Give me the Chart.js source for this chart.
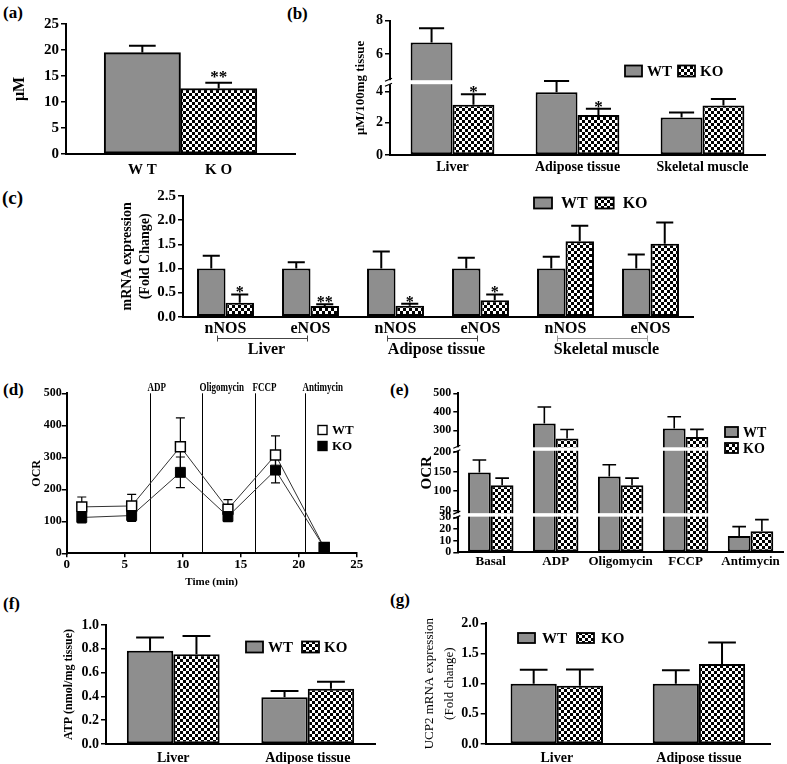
<!DOCTYPE html>
<html lang="en">
<head>
<meta charset="UTF-8">
<title>NO / OCR / ATP panels</title>
<script src="https://cdn.jsdelivr.net/npm/chart.js@4.4.1/dist/chart.umd.min.js"></script>
<style>
    html, body {
        margin: 0;
        padding: 0;
        background: #fff;
    }
    body {
        position: relative;
        width: 787px;
        height: 764px;
        overflow: hidden;
        font-family: 'Liberation Serif', 'Times New Roman', serif;
    }
    canvas { position: absolute; }
    .tag {
        position: absolute;
        font-weight: bold;
        font-size: 17px;
        line-height: 1;
    }
</style>
</head>
<body>
<div class="tag" style="left:3px;top:4px">(a)</div>
<div class="tag" style="left:287px;top:5px">(b)</div>
<div class="tag" style="left:2px;top:188px;font-size:19px">(c)</div>
<div class="tag" style="left:3px;top:381px">(d)</div>
<div class="tag" style="left:390px;top:381px">(e)</div>
<div class="tag" style="left:3px;top:595px">(f)</div>
<div class="tag" style="left:390px;top:591px">(g)</div>

<script>
    // ---------- data ----------
    // (a) serum NO
    const catsA = ['WT', 'KO'];
    const valsA = [19.5, 12.6];
    const errA = [1.3, 1.1];
    const starsA = ['', '**'];

    // (b) tissue NO
    const catsB = ['Liver', 'Adipose tissue', 'Skeletal muscle'];
    const wtB = [6.7, 3.97, 2.32];
    const wtErrB = [0.85, 0.5, 0.32];
    const koB = [3.15, 2.47, 3.1];
    const koErrB = [0.69, 0.42, 0.42];
    const koStarsB = ['*', '*', ''];

    // (c) NOS mRNA
    const catsC = ['nNOS', 'eNOS', 'nNOS', 'eNOS', 'nNOS', 'eNOS'];
    const groupsC = ['Liver', 'Adipose tissue', 'Skeletal muscle'];
    const wtC = [1, 1, 1, 1, 1, 1];
    const wtErrC = [0.26, 0.13, 0.35, 0.22, 0.24, 0.29];
    const koC = [0.29, 0.22, 0.225, 0.34, 1.565, 1.51];
    const koErrC = [0.17, 0.04, 0.045, 0.12, 0.32, 0.44];
    const koStarsC = ['*', '**', '*', '*', '', ''];

    // (d) OCR time course
    const timeD = [1.3, 5.6, 9.8, 13.9, 18.0, 22.2];
    const wtD = [145, 148, 333, 138, 307, 18];
    const wtErrD = [31, 36, 90, 30, 60, 5];
    const koD = [112, 118, 253, 115, 260, 18];
    const koErrD = [17, 18, 48, 16, 40, 5];
    const injectLabels = ['ADP', 'Oligomycin', 'FCCP', 'Antimycin'];
    const injectTimes = [7.2, 11.7, 16.2, 20.5];

    // (e) OCR per state
    const catsE = ['Basal', 'ADP', 'Oligomycin', 'FCCP', 'Antimycin'];
    const wtE = [147, 336, 137, 309, 14];
    const wtErrE = [32, 90, 30, 64, 8];
    const koE = [115, 255, 115, 263, 18];
    const koErrE = [18, 49, 18, 42, 10];
    const ticksE = [0, 10, 20, 30, 50, 100, 150, 200, 300, 400, 500];

    // (f) ATP
    const catsF = ['Liver', 'Adipose tissue'];
    const wtF = [0.784, 0.392];
    const wtErrF = [0.11, 0.053];
    const koF = [0.754, 0.465];
    const koErrF = [0.154, 0.059];

    // (g) UCP2 mRNA
    const catsG = ['Liver', 'Adipose tissue'];
    const wtG = [1.0, 1.0];
    const wtErrG = [0.23, 0.22];
    const koG = [0.965, 1.325];
    const koErrG = [0.27, 0.355];

    // ---------- look ----------
    const SERIF = "'Liberation Serif', 'Times New Roman', serif";
    const WT_GRAY = '#8e8e8e';

    Chart.defaults.font.family = SERIF;
    Chart.defaults.font.weight = 'bold';
    Chart.defaults.color = '#000';
    Chart.defaults.animation = false;
    Chart.defaults.events = [];
    Chart.defaults.plugins.legend.display = false;
    Chart.defaults.plugins.tooltip.enabled = false;

    // broken y axes: value -> fraction of axis height
    const brokenKnots = {
        pb: [[0, 0], [2, 0.2435], [4, 0.4713], [4.4, 0.5182], [4.5, 0.5659], [6, 0.7506], [8, 1]],
        pe: [[0, 0], [30, 0.2201], [45, 0.2484], [200, 0.6327], [215, 0.6686], [500, 1]]
    };

    function knotFrac(k, v) {
        for (let i = 1; i < k.length; i++) {
            if (v <= k[i][0] || i === k.length - 1) {
                const [v0, f0] = k[i - 1], [v1, f1] = k[i];
                return f0 + (v - v0) / (v1 - v0) * (f1 - f0);
            }
        }
    }

    class BrokenScale extends Chart.LinearScale {
        getPixelForValue(value) {
            if (value === null || value === undefined || isNaN(value)) return NaN;
            return this.getPixelForDecimal(knotFrac(brokenKnots[this.chart.canvas.id], value));
        }
        getValueForPixel(pixel) {
            const f = this.getDecimalForPixel(pixel);
            const k = brokenKnots[this.chart.canvas.id].map(p => [p[1], p[0]]);
            return knotFrac(k, f);
        }
    }
    BrokenScale.id = 'broken';
    Chart.register(BrokenScale);

    function checker(ctx, cell) {
        const c = document.createElement('canvas');
        c.width = c.height = cell * 2;
        const g = c.getContext('2d');
        g.fillStyle = '#fff';
        g.fillRect(0, 0, cell * 2, cell * 2);
        g.fillStyle = '#000';
        g.fillRect(0, 0, cell, cell);
        g.fillRect(cell, cell, cell, cell);
        return ctx.createPattern(c, 'repeat');
    }

    // ---------- plugins ----------
    function drawErrors(chart, o) {
        const ctx = chart.ctx, ys = chart.scales.y;
        ctx.save();
        ctx.strokeStyle = '#000';
        ctx.lineWidth = o.width || 2;
        chart.data.datasets.forEach((ds, i) => {
            if (!ds.errors) return;
            chart.getDatasetMeta(i).data.forEach((el, j) => {
                const raw = ds.data[j];
                const v = typeof raw === 'object' ? raw.y : raw;
                const e = ds.errors[j];
                const x = el.x;
                const yTop = ys.getPixelForValue(v + e);
                const yBot = o.both ? ys.getPixelForValue(v - e) : el.y;
                const half = o.capPx ? o.capPx / 2 : el.width * (o.cap || 0.6) / 2;
                ctx.beginPath();
                ctx.moveTo(x, yBot);
                ctx.lineTo(x, yTop);
                ctx.moveTo(x - half, yTop);
                ctx.lineTo(x + half, yTop);
                if (o.both) {
                    ctx.moveTo(x - half, yBot);
                    ctx.lineTo(x + half, yBot);
                }
                ctx.stroke();
                if (ds.stars && ds.stars[j]) {
                    ctx.font = 'bold ' + (o.starSize || 17) + 'px ' + SERIF;
                    ctx.textAlign = 'center';
                    ctx.textBaseline = 'alphabetic';
                    ctx.fillStyle = '#000';
                    ctx.fillText(ds.stars[j], x, yTop + (o.starDy === undefined ? 3 : o.starDy));
                }
            });
        });
        ctx.restore();
    }

    const errorBars = {
        id: 'errorBars',
        beforeDatasetsDraw(chart, args, o) { if (o.behind) drawErrors(chart, o); },
        afterDatasetsDraw(chart, args, o) { if (!o.behind) drawErrors(chart, o); }
    };

    const axisBreaks = {
        id: 'axisBreaks',
        afterDatasetsDraw(chart, args, o) {
            if (!o.at) return;
            const ctx = chart.ctx, a = chart.chartArea, ys = chart.scales.y;
            o.at.forEach(v => {
                const py = ys.getPixelForValue(v);
                ctx.save();
                ctx.fillStyle = '#fff';
                ctx.fillRect(a.left - 2, py - o.gap / 2, a.right - a.left + 2, o.gap);
                ctx.strokeStyle = '#000';
                ctx.lineWidth = 1.2;
                ctx.beginPath();
                [-1, 1].forEach(s => {
                    const yy = py + s * (o.gap / 2 + 0.5);
                    ctx.moveTo(a.left - 5, yy + 1.5);
                    ctx.lineTo(a.left + 2, yy - 1.5);
                });
                ctx.stroke();
                ctx.restore();
            });
        }
    };

    const boxLegend = {
        id: 'boxLegend',
        afterDraw(chart, args, o) {
            if (!o.size) return;
            const ctx = chart.ctx;
            let x = o.x - chart.canvas.offsetLeft;
            let y = o.y - chart.canvas.offsetTop;
            const x0 = x;
            ctx.save();
            ctx.font = 'bold ' + o.size + 'px ' + SERIF;
            ctx.textBaseline = 'middle';
            ctx.textAlign = 'left';
            (o.order || [0, 1]).forEach(k => {
                const ds = chart.data.datasets[k];
                ctx.lineWidth = 1.8;
                ctx.strokeStyle = '#000';
                if (o.marker) {
                    ctx.fillStyle = ds.pointBackgroundColor;
                    ctx.fillRect(x, y - o.bw / 2, o.bw, o.bw);
                    ctx.lineWidth = 1.4;
                    ctx.strokeRect(x, y - o.bw / 2, o.bw, o.bw);
                } else {
                    ctx.fillStyle = ds.backgroundColor;
                    ctx.fillRect(x, y - o.bh / 2, o.bw, o.bh);
                    ctx.strokeRect(x, y - o.bh / 2, o.bw, o.bh);
                }
                ctx.fillStyle = '#000';
                ctx.fillText(ds.label, x + o.bw + o.gap, y + 1);
                if (o.dir === 'col') {
                    y += o.rowGap;
                    x = x0;
                } else {
                    x += o.bw + o.gap + ctx.measureText(ds.label).width + o.spacing;
                }
            });
            ctx.restore();
        }
    };

    const injections = {
        id: 'injections',
        beforeDatasetsDraw(chart, args, o) {
            if (!o.times) return;
            const ctx = chart.ctx, a = chart.chartArea, xs = chart.scales.x;
            ctx.save();
            ctx.strokeStyle = '#000';
            ctx.lineWidth = 1;
            ctx.font = 'bold 12px ' + SERIF;
            ctx.fillStyle = '#000';
            ctx.textBaseline = 'alphabetic';
            o.times.forEach((t, i) => {
                const px = Math.round(xs.getPixelForValue(t)) + 0.5;
                ctx.beginPath();
                ctx.moveTo(px, a.top);
                ctx.lineTo(px, a.bottom);
                ctx.stroke();
                // condensed label, like the narrow face of the original
                ctx.save();
                ctx.translate(px - 3, a.top - 2);
                ctx.scale(0.75, 1);
                ctx.fillText(o.labels[i], 0, 0);
                ctx.restore();
            });
            ctx.restore();
        }
    };

    const groupLabels = {
        id: 'groupLabels',
        afterDraw(chart, args, o) {
            if (!o.labels) return;
            const ctx = chart.ctx, xs = chart.scales.x, oy = chart.canvas.offsetTop;
            ctx.save();
            ctx.font = 'bold 16px ' + SERIF;
            ctx.textAlign = 'center';
            ctx.textBaseline = 'middle';
            o.labels.forEach((lab, g) => {
                const x1 = xs.getPixelForValue(2 * g) - 8;
                const x2 = xs.getPixelForValue(2 * g + 1) - 3;
                const ly = Math.round(o.lineY - oy) + 0.5;
                ctx.strokeStyle = o.colors[g];
                ctx.lineWidth = 1;
                ctx.beginPath();
                ctx.moveTo(x1, ly); ctx.lineTo(x2, ly);
                ctx.moveTo(x1, ly - 3); ctx.lineTo(x1, ly + 3);
                ctx.moveTo(x2, ly - 3); ctx.lineTo(x2, ly + 3);
                ctx.stroke();
                ctx.fillStyle = '#000';
                ctx.fillText(lab, (x1 + x2) / 2 + 4, o.textY - oy);
            });
            ctx.restore();
        }
    };

    // ---------- helpers ----------
    function panel(id, box) {
        const c = document.createElement('canvas');
        c.id = id;
        c.width = box.w;
        c.height = box.h;
        c.style.left = box.x + 'px';
        c.style.top = box.y + 'px';
        c.style.width = box.w + 'px';
        c.style.height = box.h + 'px';
        document.body.appendChild(c);
        return c.getContext('2d');
    }

    function layoutFor(box, plot) {
        return { padding: { left: 0, top: plot.t - box.y, right: box.x + box.w - plot.r, bottom: 0 } };
    }

    function yScale(box, plot, c) {
        const lh = c.lh || 1.2;
        return {
            type: c.type || 'linear',
            min: c.min,
            max: c.max,
            afterFit: s => { s.width = plot.l - box.x; },
            afterBuildTicks: c.ticks ? s => { s.ticks = c.ticks.map(v => ({ value: v })); } : undefined,
            border: { display: true, color: '#000', width: 2 },
            grid: { display: true, drawOnChartArea: false, drawTicks: true, tickLength: 5, color: '#000', lineWidth: 1.5 },
            ticks: {
                stepSize: c.step,
                autoSkip: false,
                padding: c.pad === undefined ? 2 : c.pad,
                color: '#000',
                font: { size: c.size, weight: 'bold' },
                callback: v => c.dec ? v.toFixed(c.dec) : v
            },
            title: {
                display: true,
                text: c.title,
                color: '#000',
                font: { size: c.titleSize, weight: c.titleWeight || 'bold', lineHeight: lh },
                padding: { top: c.titleX - box.x - c.titleSize * lh / 2, bottom: 0 }
            }
        };
    }

    function xCategory(box, plot, size, pad) {
        return {
            type: 'category',
            afterFit: s => { s.height = box.y + box.h - plot.b; },
            border: { display: true, color: '#000', width: 2 },
            grid: { display: false, drawTicks: false },
            ticks: { color: '#000', autoSkip: false, maxRotation: 0, padding: pad, font: { size: size, weight: 'bold' } }
        };
    }

    function barSets(ctx, wt, wtErr, ko, koErr, koStars, pct) {
        return [
            { label: 'WT', data: wt, errors: wtErr, backgroundColor: WT_GRAY, borderColor: '#000', borderWidth: 2,
              borderSkipped: false, barPercentage: 1, categoryPercentage: pct },
            { label: 'KO', data: ko, errors: koErr, stars: koStars, backgroundColor: checker(ctx, 3), borderColor: '#000',
              borderWidth: 2, borderSkipped: false, barPercentage: 1, categoryPercentage: pct }
        ];
    }

    // ---------- (a) ----------
    const boxA = { x: 0, y: 0, w: 300, h: 185 }, plotA = { l: 66, t: 24, r: 295, b: 154 };
    const ctxA = panel('pa', boxA);
    new Chart(ctxA, {
        type: 'bar',
        data: {
            datasets: [{
                data: catsA.map((c, i) => ({ x: i + 1, y: valsA[i] })),
                errors: errA,
                stars: starsA,
                backgroundColor: [WT_GRAY, checker(ctxA, 3)],
                borderColor: '#000',
                borderWidth: 2,
                borderSkipped: false,
                barPercentage: 1,
                categoryPercentage: 1
            }]
        },
        options: {
            responsive: false,
            layout: layoutFor(boxA, plotA),
            scales: {
                x: {
                    type: 'linear', min: 0, max: 3, offset: false,
                    afterFit: s => { s.height = boxA.y + boxA.h - plotA.b; },
                    afterBuildTicks: s => { s.ticks = catsA.map((c, i) => ({ value: i + 1 })); },
                    border: { display: true, color: '#000', width: 2 },
                    grid: { display: false, drawTicks: false },
                    ticks: { padding: 7, font: { size: 15 }, callback: (v, i) => catsA[i].split('').join(' ') }
                },
                y: yScale(boxA, plotA, { min: 0, max: 25, step: 5, size: 15, title: 'μM', titleSize: 16, titleX: 20 })
            },
            plugins: { errorBars: { cap: 0.35, starDy: -1 } }
        },
        plugins: [errorBars]
    });

    // ---------- (b) ----------
    const boxB = { x: 300, y: 0, w: 487, h: 185 }, plotB = { l: 390, t: 20.7, r: 765, b: 155 };
    const ctxB = panel('pb', boxB);
    new Chart(ctxB, {
        type: 'bar',
        data: { labels: catsB, datasets: barSets(ctxB, wtB, wtErrB, koB, koErrB, koStarsB, 0.67) },
        options: {
            responsive: false,
            layout: layoutFor(boxB, plotB),
            scales: {
                x: xCategory(boxB, plotB, 14, 3.6),
                y: yScale(boxB, plotB, { type: 'broken', min: 0, max: 8, step: 2, size: 14, title: 'μM/100mg tissue', titleSize: 13, titleX: 361 })
            },
            plugins: {
                axisBreaks: { at: [4.45], gap: 4 },
                errorBars: {},
                boxLegend: { x: 625, y: 71, bw: 17, bh: 11, gap: 5, spacing: 6, size: 15 }
            }
        },
        plugins: [axisBreaks, errorBars, boxLegend]
    });

    // ---------- (c) ----------
    const boxC = { x: 100, y: 185, w: 687, h: 180 }, plotC = { l: 183, t: 194, r: 693, b: 316.7 };
    const ctxC = panel('pc', boxC);
    new Chart(ctxC, {
        type: 'bar',
        data: { labels: catsC, datasets: barSets(ctxC, wtC, wtErrC, koC, koErrC, koStarsC, 0.67) },
        options: {
            responsive: false,
            layout: layoutFor(boxC, plotC),
            scales: {
                x: xCategory(boxC, plotC, 16, 2.7),
                y: yScale(boxC, plotC, { min: 0, max: 2.5, step: 0.5, dec: 1, size: 15,
                    title: ['mRNA expression', '(Fold Change)'], titleSize: 14, lh: 1.29, titleX: 127 })
            },
            plugins: {
                errorBars: { starSize: 16 },
                boxLegend: { x: 534, y: 203, bw: 18, bh: 11, gap: 9, spacing: 8, size: 16 },
                groupLabels: { labels: groupsC, lineY: 338, textY: 350, colors: ['#444', '#444', '#999'] }
            }
        },
        plugins: [errorBars, boxLegend, groupLabels]
    });

    // ---------- (d) ----------
    const boxD = { x: 0, y: 378, w: 390, h: 215 }, plotD = { l: 66.7, t: 393.3, r: 356.7, b: 553.3 };
    const ctxD = panel('pd', boxD);
    new Chart(ctxD, {
        type: 'line',
        data: {
            datasets: [
                { label: 'KO', data: timeD.map((t, i) => ({ x: t, y: koD[i] })), errors: koErrD,
                  borderColor: '#333', borderWidth: 1, pointStyle: 'rect', pointRadius: 7,
                  pointBackgroundColor: '#000', pointBorderColor: '#000', pointBorderWidth: 1 },
                { label: 'WT', data: timeD.map((t, i) => ({ x: t, y: wtD[i] })), errors: wtErrD,
                  borderColor: '#333', borderWidth: 1, pointStyle: 'rect', pointRadius: 7,
                  pointBackgroundColor: '#fff', pointBorderColor: '#000', pointBorderWidth: 1.5 }
            ]
        },
        options: {
            responsive: false,
            layout: layoutFor(boxD, plotD),
            scales: {
                x: {
                    type: 'linear', min: 0, max: 25,
                    afterFit: s => { s.height = boxD.y + boxD.h - plotD.b; },
                    border: { display: true, color: '#000', width: 2 },
                    grid: { display: true, drawOnChartArea: false, drawTicks: true, tickLength: 4, color: '#000', lineWidth: 1.5 },
                    ticks: { stepSize: 5, padding: 0, font: { size: 13 } },
                    title: { display: true, text: 'Time (min)', font: { size: 11 }, padding: { top: 0, bottom: 4.4 } }
                },
                y: yScale(boxD, plotD, { min: 0, max: 500, step: 100, size: 12, pad: 0, title: 'OCR', titleSize: 12, titleX: 37 })
            },
            plugins: {
                injections: { times: injectTimes, labels: injectLabels },
                errorBars: { both: true, behind: true, capPx: 9, width: 1.2 },
                boxLegend: { x: 318, y: 430, marker: true, bw: 9, gap: 5, dir: 'col', rowGap: 16, size: 13, order: [1, 0] }
            }
        },
        plugins: [injections, errorBars, boxLegend]
    });

    // ---------- (e) ----------
    const boxE = { x: 390, y: 378, w: 397, h: 195 }, plotE = { l: 458.3, t: 393.3, r: 783, b: 552.3 };
    const ctxE = panel('pe', boxE);
    new Chart(ctxE, {
        type: 'bar',
        data: { labels: catsE, datasets: barSets(ctxE, wtE, wtErrE, koE, koErrE, null, 0.70) },
        options: {
            responsive: false,
            layout: layoutFor(boxE, plotE),
            scales: {
                x: xCategory(boxE, plotE, 13, 1.6),
                y: yScale(boxE, plotE, { type: 'broken', min: 0, max: 500, ticks: ticksE, size: 12, title: 'OCR', titleSize: 15, titleX: 427 })
            },
            plugins: {
                axisBreaks: { at: [38, 207], gap: 3.5 },
                errorBars: { width: 1.6 },
                boxLegend: { x: 725, y: 432, bw: 13, bh: 10, gap: 5, dir: 'col', rowGap: 16, size: 14 }
            }
        },
        plugins: [axisBreaks, errorBars, boxLegend]
    });

    // ---------- (f) ----------
    const boxF = { x: 0, y: 593, w: 390, h: 171 }, plotF = { l: 106, t: 625, r: 375, b: 744 };
    const ctxF = panel('pf', boxF);
    new Chart(ctxF, {
        type: 'bar',
        data: { labels: catsF, datasets: barSets(ctxF, wtF, wtErrF, koF, koErrF, null, 0.69) },
        options: {
            responsive: false,
            layout: layoutFor(boxF, plotF),
            scales: {
                x: xCategory(boxF, plotF, 14, 5.6),
                y: yScale(boxF, plotF, { min: 0, max: 1.0, step: 0.2, dec: 1, size: 14, title: 'ATP (nmol/mg tissue)', titleSize: 12, titleX: 69 })
            },
            plugins: {
                errorBars: {},
                boxLegend: { x: 246, y: 647, bw: 17, bh: 11, gap: 5, spacing: 9, size: 15 }
            }
        },
        plugins: [errorBars, boxLegend]
    });

    // ---------- (g) ----------
    const boxG = { x: 390, y: 593, w: 397, h: 171 }, plotG = { l: 485.7, t: 623.3, r: 770, b: 744 };
    const ctxG = panel('pg', boxG);
    new Chart(ctxG, {
        type: 'bar',
        data: { labels: catsG, datasets: barSets(ctxG, wtG, wtErrG, koG, koErrG, null, 0.65) },
        options: {
            responsive: false,
            layout: layoutFor(boxG, plotG),
            scales: {
                x: xCategory(boxG, plotG, 14, 5.6),
                y: yScale(boxG, plotG, { min: 0, max: 2.0, step: 0.5, dec: 1, size: 14,
                    title: ['UCP2 mRNA expression', '(Fold change)'], titleSize: 13, titleWeight: 'normal', lh: 1.5, titleX: 430 })
            },
            plugins: {
                errorBars: {},
                boxLegend: { x: 518, y: 638, bw: 17, bh: 10, gap: 7, spacing: 10, size: 15 }
            }
        },
        plugins: [errorBars, boxLegend]
    });
</script>
</body>
</html>
